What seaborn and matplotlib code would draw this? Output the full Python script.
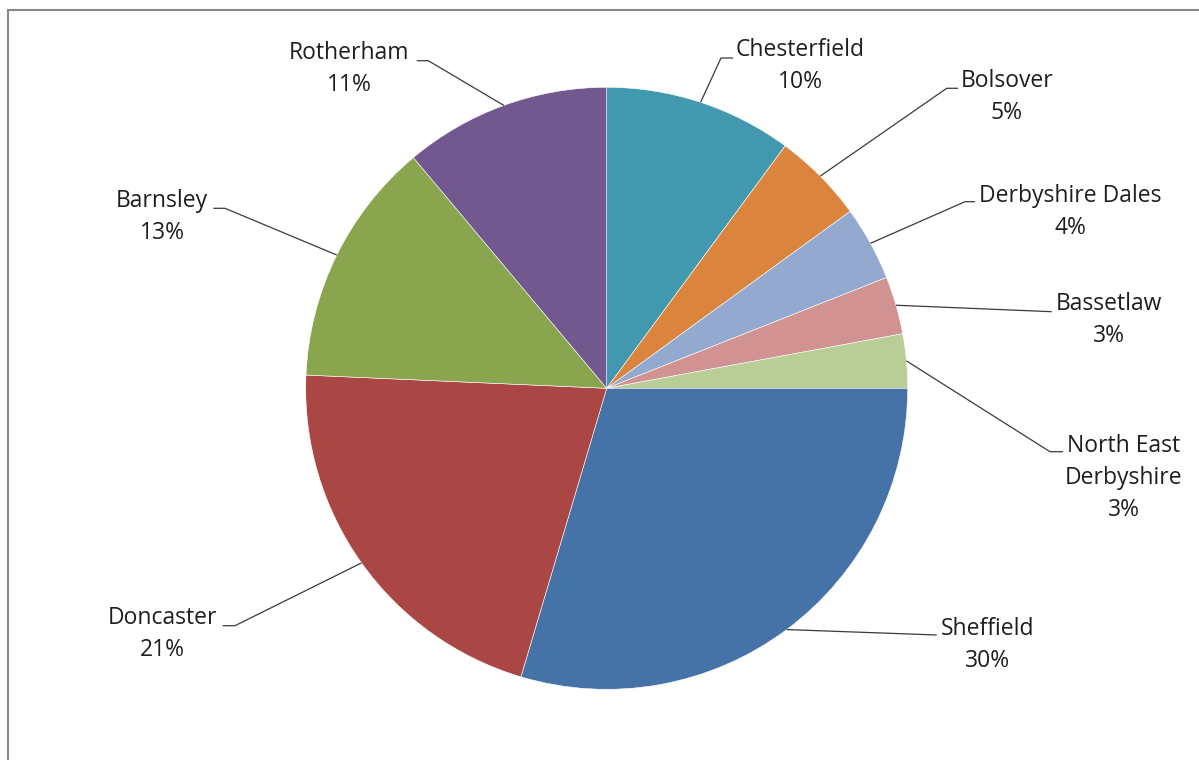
import matplotlib
matplotlib.use("Agg")
import numpy as np
import matplotlib.pyplot as plt
import seaborn as sns
from matplotlib.lines import Line2D

# Share of total by local authority district (%)
districts = ["Chesterfield", "Bolsover", "Derbyshire Dales", "Bassetlaw",
             "North East\nDerbyshire", "Sheffield", "Doncaster", "Barnsley",
             "Rotherham"]
shares = [10.1, 4.9, 4.0, 3.1, 2.9, 29.6, 21.1, 13.2, 11.1]
slice_colors = ["#4198AF", "#DB843D", "#93A9CF", "#D19392", "#B9CD96",
                "#4572A7", "#AA4643", "#89A54E", "#71588F"]

sns.set_theme(style="white")
plt.rcParams["font.family"] = ["Open Sans", "DejaVu Sans"]

W, H = 1199, 760
fig = plt.figure(figsize=(W / 100, H / 100), dpi=100)
ax = fig.add_axes([0, 0, 1, 1])

# Pie geometry in pixel units (y measured upward)
cx, cy, R = 606.7, H - 388.3, 301.0
palette = sns.color_palette(slice_colors)
wedges, _ = ax.pie(shares, colors=palette, startangle=90, counterclock=False,
                   center=(cx, cy), radius=R,
                   wedgeprops=dict(linewidth=0.4, edgecolor="white"))
ax.set_xlim(0, W)
ax.set_ylim(0, H)
ax.set_aspect("equal")
ax.axis("off")

# Label block centre (x, y of first line) and leader-line bend points,
# in pixels from the top-left corner
label_layout = [
    (800.0, 50.0, [(721.0, 58.0), (733.0, 58.0)]),
    (1007.0, 81.0, [(946.7, 88.3), (958.0, 88.3)]),
    (1070.0, 196.0, [(965.0, 201.7), (975.0, 201.7)]),
    (1109.0, 304.0, [(1051.7, 311.7)]),
    (1123.5, 446.0, [(1050.0, 451.7), (1063.0, 451.7)]),
    (988.0, 629.0, [(936.7, 635.0)]),
    (162.0, 618.0, [(235.0, 625.7), (222.7, 625.7)]),
    (162.0, 201.0, [(225.0, 208.3), (213.3, 208.3)]),
    (349.0, 53.0, [(428.3, 60.7), (416.7, 60.7)]),
]
line_step = 32.0
text_color = "#1e1e1e"
leader_color = "#3a3a3a"

for wedge, name, share, (tx, ty, bends) in zip(wedges, districts, shares,
                                               label_layout):
    mid = np.deg2rad((wedge.theta1 + wedge.theta2) / 2.0)
    ex, ey = wedge.center[0] + wedge.r * np.cos(mid), wedge.center[1] + wedge.r * np.sin(mid)
    xs = [ex] + [b[0] for b in bends]
    ys = [ey] + [H - b[1] for b in bends]
    ax.plot(xs, ys, color=leader_color, lw=0.9, solid_capstyle="butt")
    lines = name.split("\n") + [f"{share:.0f}%"]
    for k, line in enumerate(lines):
        ax.text(tx, H - (ty + k * line_step), line, ha="center", va="center",
                fontsize=16.5, color=text_color)

# Chart area border (top and left edges)
border = "#878787"
fig.add_artist(Line2D([8 / W, 1], [1 - 10 / H, 1 - 10 / H],
                      transform=fig.transFigure, color=border, lw=1.5))
fig.add_artist(Line2D([8 / W, 8 / W], [0, 1 - 10 / H],
                      transform=fig.transFigure, color=border, lw=1.5))

fig.savefig("out.png", dpi=100, facecolor="white")
